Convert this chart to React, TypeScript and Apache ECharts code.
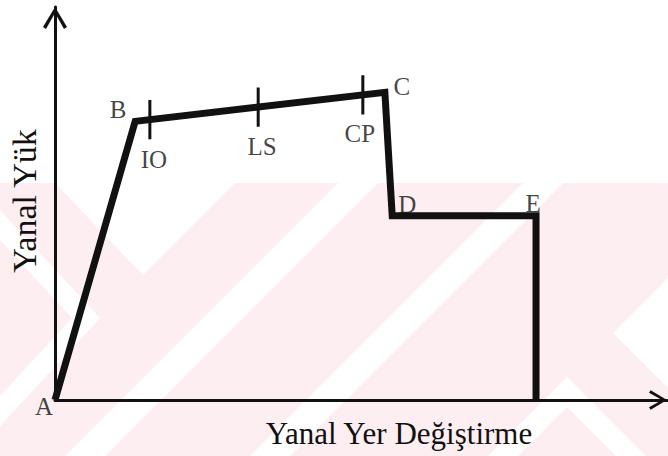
import React, { useEffect, useRef } from "react";
import * as echarts from "echarts";

// Pushover (capacity) curve points: A, B, C, D, E and the foot below E
const pointNames = ["A", "B", "C", "D", "E", ""];
const displacement = [0, 1.31, 5.39, 5.51, 7.86, 7.86];
const lateralLoad = [0, 7.09, 7.83, 4.69, 4.69, 0];

// Performance levels on the B-C branch
const levelNames = ["IO", "LS", "CP"];
const levelDisp = [1.55, 3.32, 5.03];
const levelTickHalf = 0.5;

const xAxisTitle = "Yanal Yer Değiştirme";
const yAxisTitle = "Yanal Yük";

const FONT = '"Liberation Serif", "Times New Roman", serif';
const INK = "#111111";
const PINK = "#fdeff1";

export default function App() {
  const ref = useRef<HTMLDivElement>(null);

  useEffect(() => {
    if (!ref.current) return;
    const chart = echarts.init(ref.current, null, { renderer: "svg" });

    const curve = displacement.map((x, i) => [x, lateralLoad[i]]);
    const bx = displacement[1], by = lateralLoad[1];
    const cx = displacement[2], cy = lateralLoad[2];
    const onBC = (x: number) => by + ((x - bx) / (cx - bx)) * (cy - by);

    const pointOffsets: Record<string, number[]> = {
      A: [-11, 6],
      B: [-17, -12],
      C: [17, -6],
      D: [15, -11],
      E: [-3, -12],
      IO: [4, 40],
      LS: [4, 39],
      CP: [-3, 39],
    };

    const labelData = [
      ...pointNames
        .map((n, i) => ({ n, i }))
        .filter((p) => p.n)
        .map((p) => ({
          name: p.n,
          value: [displacement[p.i], lateralLoad[p.i]],
          label: { offset: pointOffsets[p.n] },
        })),
      ...levelNames.map((n, i) => ({
        name: n,
        value: [levelDisp[i], onBC(levelDisp[i])],
        label: { offset: pointOffsets[n] },
      })),
    ];

    const tickSeries = levelNames.map((n, i) => ({
      type: "line",
      name: n + " tick",
      data: [
        [levelDisp[i], onBC(levelDisp[i]) + levelTickHalf],
        [levelDisp[i], onBC(levelDisp[i]) - levelTickHalf],
      ],
      symbol: "none",
      lineStyle: { color: INK, width: 3 },
      z: 4,
      silent: true,
    }));

    const arrowPath = "path://M12,0 L24,20 L21,22 L12,6 L3,22 L0,20 Z";

    const wm = (points: number[][]) => ({
      type: "polygon",
      z: -10,
      silent: true,
      shape: { points },
      style: { fill: "#ffffff" },
    });

    chart.setOption({
      animation: false,
      backgroundColor: "#ffffff",
      grid: { left: 55, right: 1, top: 7, bottom: 56 },
      xAxis: {
        type: "value",
        min: 0,
        max: 10,
        axisLine: {
          lineStyle: { color: INK, width: 3 },
          symbol: ["none", arrowPath],
          symbolSize: [22, 18],
          symbolOffset: [0, -9],
        },
        axisTick: { show: false },
        axisLabel: { show: false },
        splitLine: { show: false },
      },
      yAxis: {
        type: "value",
        min: 0,
        max: 10,
        axisLine: {
          show: true,
          lineStyle: { color: INK, width: 3 },
          symbol: ["none", arrowPath],
          symbolSize: [24, 22],
          symbolOffset: [0, -11],
        },
        axisTick: { show: false },
        axisLabel: { show: false },
        splitLine: { show: false },
      },
      graphic: [
        {
          type: "group",
          z: -10,
          silent: true,
          children: [
            {
              type: "rect",
              z: -11,
              shape: { x: 0, y: 183, width: 668, height: 273 },
              style: { fill: PINK },
            },
            wm([[0, 210], [100, 318], [0, 426], [0, 396], [72, 318], [0, 240]]),
            wm([[55, 183], [143, 275], [235, 183]]),
            wm([[65, 456], [105, 456], [378, 183], [338, 183]]),
            wm([[250, 456], [290, 456], [563, 183], [523, 183]]),
            wm([[613, 333], [668, 278], [668, 388]]),
            wm([[567, 377], [646, 456], [616, 456], [567, 407], [518, 456], [488, 456]]),
          ],
        },
        {
          type: "text",
          z: 10,
          x: 24,
          y: 201,
          rotation: Math.PI / 2,
          style: {
            text: yAxisTitle,
            fill: INK,
            font: `34px ${FONT}`,
            textAlign: "center",
            textVerticalAlign: "middle",
          },
        },
        {
          type: "text",
          z: 10,
          x: 399,
          y: 433,
          style: {
            text: xAxisTitle,
            fill: INK,
            font: `31px ${FONT}`,
            textAlign: "center",
            textVerticalAlign: "middle",
          },
        },
      ],
      series: [
        {
          type: "line",
          name: "Kapasite eğrisi",
          data: curve,
          symbol: "none",
          lineStyle: { color: INK, width: 7, join: "miter" },
          z: 5,
          silent: true,
        },
        ...tickSeries,
        {
          type: "scatter",
          name: "labels",
          data: labelData,
          symbolSize: 0,
          z: 6,
          silent: true,
          label: {
            show: true,
            position: "inside",
            formatter: "{b}",
            color: INK,
            fontFamily: FONT,
            fontSize: 25,
          },
        },
      ],
    });

    return () => chart.dispose();
  }, []);

  return (
    <div
      ref={ref}
      style={{ position: "fixed", left: 0, top: 0, width: 668, height: 456, background: "#fff" }}
    />
  );
}
